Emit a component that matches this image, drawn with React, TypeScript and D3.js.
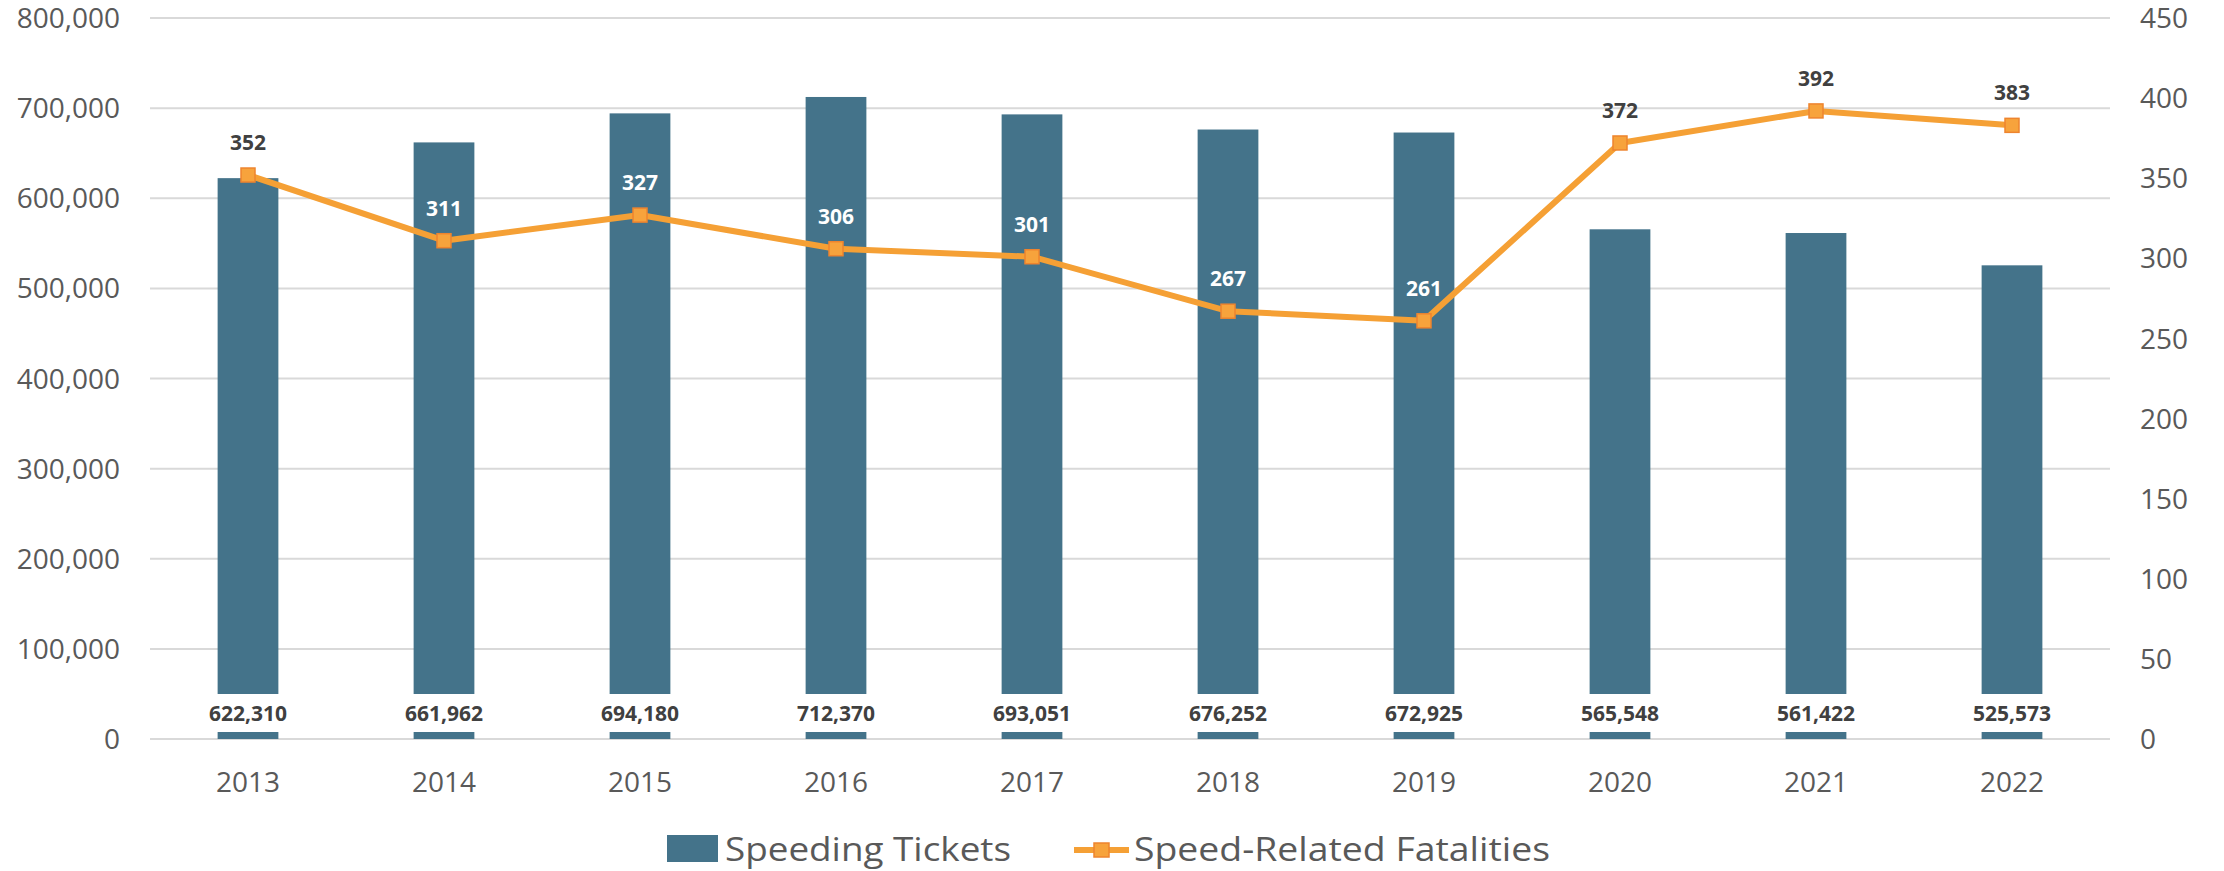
import React from 'react';
import * as d3 from 'd3';

const years = ['2013', '2014', '2015', '2016', '2017', '2018', '2019', '2020', '2021', '2022'];
const tickets = [622310, 661962, 694180, 712370, 693051, 676252, 672925, 565548, 561422, 525573];
const fatalities = [352, 311, 327, 306, 301, 267, 261, 372, 392, 383];
const leftTicks = [0, 100000, 200000, 300000, 400000, 500000, 600000, 700000, 800000];
const rightTicks = [0, 50, 100, 150, 200, 250, 300, 350, 400, 450];

const W = 2224;
const H = 871;
const FONT = "'Open Sans', sans-serif";
const BAR = '#44738A';
const ORANGE = '#F5A035';

const App: React.FC = () => {
  // plot area
  const left = 150, right = 2110, top = 18, bottom = 739;

  const x = d3.scaleBand().domain(years).range([left, right]).paddingInner(0).paddingOuter(0);
  const yL = d3.scaleLinear().domain([0, 800000]).range([bottom, top]);
  const yR = d3.scaleLinear().domain([0, 450]).range([bottom, top]);
  const fmt = d3.format(',');
  const barW = x.bandwidth() * 0.31;
  const cx = (y: string) => (x(y) as number) + x.bandwidth() / 2;

  const line = d3.line<number>()
    .x((_, i) => cx(years[i]))
    .y(d => yR(d));

  return (
    <svg width={W} height={H} style={{ position: 'absolute', left: 0, top: 0, background: '#fff' }} fontFamily={FONT}>
      {/* gridlines */}
      {leftTicks.map(t => (
        <line key={t} x1={left} x2={right} y1={yL(t)} y2={yL(t)} stroke="#D9D9D9" strokeWidth={2} />
      ))}
      {/* left axis labels */}
      {leftTicks.map(t => (
        <text key={t} x={120} y={yL(t)} dy="0.36em" textAnchor="end" fontSize={28} fill="#595959">{fmt(t)}</text>
      ))}
      {/* right axis labels */}
      {rightTicks.map(t => (
        <text key={t} x={2140} y={yR(t)} dy="0.36em" textAnchor="start" fontSize={28} fill="#595959">{t}</text>
      ))}
      {/* year labels */}
      {years.map(y => (
        <text key={y} x={cx(y)} y={792} textAnchor="middle" fontSize={28} fill="#595959">{y}</text>
      ))}
      {/* bars */}
      {years.map((y, i) => (
        <rect key={y} x={cx(y) - barW / 2} y={yL(tickets[i])} width={barW} height={bottom - yL(tickets[i])} fill={BAR} />
      ))}
      {/* bar value labels with white backing */}
      {years.map((y, i) => (
        <g key={y}>
          <rect x={cx(y) - 44} y={694} width={88} height={38} fill="#fff" />
          <text x={cx(y)} y={721} textAnchor="middle" fontSize={21} fontWeight="bold" fill="#404040">{fmt(tickets[i])}</text>
        </g>
      ))}
      {/* line */}
      <path d={line(fatalities) || ''} fill="none" stroke={ORANGE} strokeWidth={6} strokeLinejoin="round" />
      {fatalities.map((f, i) => (
        <rect key={i} x={cx(years[i]) - 7} y={yR(f) - 7} width={14} height={14} fill="#F7A33C" stroke="#EE842E" strokeWidth={1.5} />
      ))}
      {/* line labels */}
      {fatalities.map((f, i) => {
        const ly = yR(f) - 25;
        const inBar = ly - 16 > yL(tickets[i]);
        return (
          <text key={i} x={cx(years[i])} y={ly} textAnchor="middle" fontSize={21} fontWeight="bold" fill={inBar ? '#fff' : '#404040'}>{f}</text>
        );
      })}
      {/* legend */}
      <rect x={667} y={835} width={51} height={27} fill={BAR} />
      <text x={725} y={861} fontSize={32} fill="#595959" textLength={286} lengthAdjust="spacingAndGlyphs">Speeding Tickets</text>
      <line x1={1074} x2={1129} y1={850} y2={850} stroke={ORANGE} strokeWidth={6} />
      <rect x={1094} y={843} width={15} height={14} fill="#F7A33C" stroke="#EE842E" strokeWidth={1.5} />
      <text x={1134} y={861} fontSize={32} fill="#595959" textLength={416} lengthAdjust="spacingAndGlyphs">Speed-Related Fatalities</text>
    </svg>
  );
};

export default App;
